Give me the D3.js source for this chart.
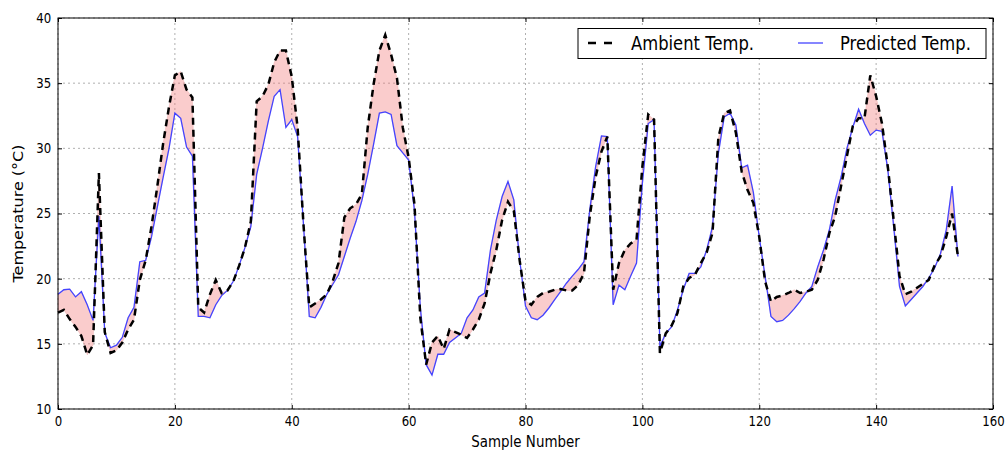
<!DOCTYPE html>
<html>
<head>
<meta charset="utf-8">
<script src="https://cdn.jsdelivr.net/npm/d3@7"></script>
<style>
  body { margin: 0; background: #fff; }
  text { font-family: "DejaVu Sans", sans-serif; }
</style>
</head>
<body>
<div id="root"></div>
<script>
// readings, one per sample (0..154)
var ambient = [17.4, 17.6, 16.9, 16.3, 15.6, 14.15, 14.9, 28.1, 15.9, 14.3,
  14.5, 15.1, 16.1, 16.85, 19.9, 21.4, 24.0, 27.1, 30.4, 33.2,
  35.6, 35.9, 34.5, 33.9, 17.8, 17.4, 18.8, 19.9, 18.9, 19.1,
  19.8, 21.0, 22.4, 24.4, 33.6, 34.0, 34.9, 36.6, 37.5, 37.5,
  35.5, 31.6, 24.2, 17.8, 18.1, 18.4, 18.8, 19.8, 21.2, 24.7,
  25.4, 25.7, 26.5, 31.6, 34.9, 37.5, 38.7, 37.2, 35.4, 31.6,
  29.3, 25.7, 17.0, 13.4, 15.1, 15.6, 14.6, 16.1, 15.9, 15.7,
  15.45, 16.1, 16.85, 18.1, 20.4, 22.2, 24.5, 25.9, 25.2, 21.4,
  18.3, 18.0, 18.6, 18.9, 19.0, 19.15, 19.2, 19.1, 19.1, 19.5,
  20.4, 24.8, 27.8, 29.75, 30.9, 19.15, 21.2, 22.2, 22.7, 23.0,
  28.6, 32.6, 32.2, 14.3, 15.8, 16.4, 17.35, 19.4, 20.05, 20.3,
  21.2, 22.0, 23.5, 30.8, 32.7, 32.9, 31.2, 28.2, 26.8, 25.8,
  23.2, 19.8, 18.25, 18.6, 18.7, 18.9, 19.15, 18.9, 19.0, 19.15,
  19.9, 21.45, 23.5, 24.8, 27.1, 29.4, 31.7, 32.3, 32.3, 35.6,
  34.0, 31.9, 28.6, 24.5, 20.2, 18.8, 19.0, 19.3, 19.6, 19.9,
  21.0, 21.7, 23.2, 25.0, 21.7];

var predicted = [18.8, 19.15, 19.2, 18.6, 19.0, 18.0, 16.8, 24.8, 15.85, 14.7,
  14.9, 15.5, 17.0, 17.8, 21.3, 21.4, 23.2, 25.5, 27.8, 30.0,
  32.7, 32.3, 30.1, 29.4, 17.1, 17.1, 17.0, 18.0, 18.7, 19.1,
  19.8, 21.0, 22.4, 24.0, 28.0, 30.0, 32.1, 34.0, 34.5, 31.6,
  32.2, 30.9, 24.2, 17.1, 17.0, 17.8, 18.8, 19.55, 20.3, 21.7,
  23.1, 24.4, 26.0, 28.0, 30.3, 32.7, 32.8, 32.6, 30.2, 29.65,
  29.1, 25.2, 17.8, 13.4, 12.6, 14.2, 14.2, 15.1, 15.45, 15.8,
  17.0, 17.6, 18.6, 18.9, 22.2, 24.5, 26.3, 27.45, 26.05, 21.45,
  17.9, 17.0, 16.85, 17.2, 17.75, 18.4, 19.0, 19.65, 20.2, 20.7,
  21.3, 25.3, 28.6, 30.95, 30.9, 18.0, 19.5, 19.15, 20.2, 21.2,
  27.3, 31.9, 32.2, 14.8, 15.8, 16.3, 17.6, 19.15, 20.4, 20.4,
  20.9, 22.2, 24.0, 29.6, 32.4, 32.7, 31.8, 28.5, 28.7, 26.6,
  23.2, 20.2, 17.1, 16.7, 16.8, 17.2, 17.7, 18.25, 18.9, 19.4,
  20.9, 22.2, 23.75, 26.05, 27.8, 30.0, 31.6, 33.0, 31.9, 31.0,
  31.4, 31.3, 28.35, 24.0, 19.4, 17.9, 18.4, 18.9, 19.4, 20.05,
  20.8, 21.9, 23.75, 27.1, 21.7];

var xTicks = [0, 20, 40, 60, 80, 100, 120, 140, 160];
var yTicks = [10, 15, 20, 25, 30, 35, 40];
var seriesNames = ["Ambient Temp.", "Predicted Temp."];

// size of the page and the plot box
var w = 1005;
var h = 450;
var plotL = 58, plotR = 993, plotT = 18, plotB = 409;
var squeeze = "scale(0.84,1)"; // the reference text is narrowed horizontally

var x = d3.scaleLinear().domain([0, 160]).range([plotL, plotR]);
var y = d3.scaleLinear().domain([10, 40]).range([plotB, plotT]);

var svg = d3.select("#root").append("svg").attr("width", w).attr("height", h);

// dotted grid
svg.append("g").selectAll("line").data(xTicks).enter().append("line")
  .attr("x1", d => x(d)).attr("x2", d => x(d)).attr("y1", plotT).attr("y2", plotB)
  .style("stroke", "#9a9a9a").style("stroke-width", 0.8).style("stroke-dasharray", "2,3");
svg.append("g").selectAll("line").data(yTicks).enter().append("line")
  .attr("x1", plotL).attr("x2", plotR).attr("y1", d => y(d)).attr("y2", d => y(d))
  .style("stroke", "#9a9a9a").style("stroke-width", 0.8).style("stroke-dasharray", "2,3");

var rows = ambient.map((a, i) => ({ i: i, a: a, p: predicted[i] }));

// shaded gap between the two series
var area = d3.area().x(d => x(d.i)).y0(d => y(d.a)).y1(d => y(d.p));
svg.append("path").datum(rows).attr("d", area)
  .style("fill", "rgba(240,115,115,0.36)").style("stroke", "rgba(220,120,120,0.35)").style("stroke-width", 0.6);

var lineA = d3.line().x(d => x(d.i)).y(d => y(d.a));
var lineP = d3.line().x(d => x(d.i)).y(d => y(d.p));

svg.append("path").datum(rows).attr("d", lineP)
  .style("fill", "none").style("stroke", "#4444ff").style("stroke-width", 1.3);
svg.append("path").datum(rows).attr("d", lineA)
  .style("fill", "none").style("stroke", "#000").style("stroke-width", 2.5).style("stroke-dasharray", "7,5");

// axes, ticks pointing inward on all four sides
var bottomAxis = d3.axisBottom(x).tickValues(xTicks).tickSizeInner(-4).tickSizeOuter(0).tickPadding(7);
var leftAxis = d3.axisLeft(y).tickValues(yTicks).tickSizeInner(-4).tickSizeOuter(0).tickPadding(8);
var gx = svg.append("g").attr("transform", "translate(0," + plotB + ")").call(bottomAxis);
var gy = svg.append("g").attr("transform", "translate(" + plotL + ",0)").call(leftAxis);
svg.append("g").attr("transform", "translate(0," + plotT + ")")
  .call(d3.axisTop(x).tickValues(xTicks).tickSizeInner(-4).tickSizeOuter(0).tickFormat(""));
svg.append("g").attr("transform", "translate(" + plotR + ",0)")
  .call(d3.axisRight(y).tickValues(yTicks).tickSizeInner(-4).tickSizeOuter(0).tickFormat(""));
svg.selectAll(".domain").remove();
svg.selectAll(".tick line").style("stroke", "#000");
[gx, gy].forEach(g => g.selectAll("text")
  .style("font-size", "14px").style("fill", "#000").attr("transform", squeeze));

// frame
svg.append("rect").attr("x", plotL).attr("y", plotT).attr("width", plotR - plotL).attr("height", plotB - plotT)
  .style("fill", "none").style("stroke", "#000").style("stroke-width", 1);

// axis titles
svg.append("text").attr("transform", "translate(" + ((plotL + plotR) / 2) + ",447) " + squeeze)
  .attr("text-anchor", "middle").style("font-size", "16px").text("Sample Number");
svg.append("text").attr("transform", "translate(23," + ((plotT + plotB) / 2) + ") " + squeeze + " rotate(-90)")
  .attr("text-anchor", "middle").style("font-size", "16px").text("Temperature (°C)");

// legend
var legend = svg.append("g");
legend.append("rect").attr("x", 578).attr("y", 28.5).attr("width", 408).attr("height", 30)
  .style("fill", "#fff").style("stroke", "#000").style("stroke-width", 1);
legend.append("line").attr("x1", 588).attr("x2", 612).attr("y1", 43).attr("y2", 43)
  .style("stroke", "#000").style("stroke-width", 2.5).style("stroke-dasharray", "8,8");
legend.append("text").attr("transform", "translate(631,50) " + squeeze)
  .style("font-size", "19.5px").text(seriesNames[0]);
legend.append("line").attr("x1", 798).attr("x2", 823).attr("y1", 43).attr("y2", 43)
  .style("stroke", "#4444ff").style("stroke-width", 1.3);
legend.append("text").attr("transform", "translate(840,50) " + squeeze)
  .style("font-size", "19.5px").text(seriesNames[1]);
</script>
</body>
</html>
